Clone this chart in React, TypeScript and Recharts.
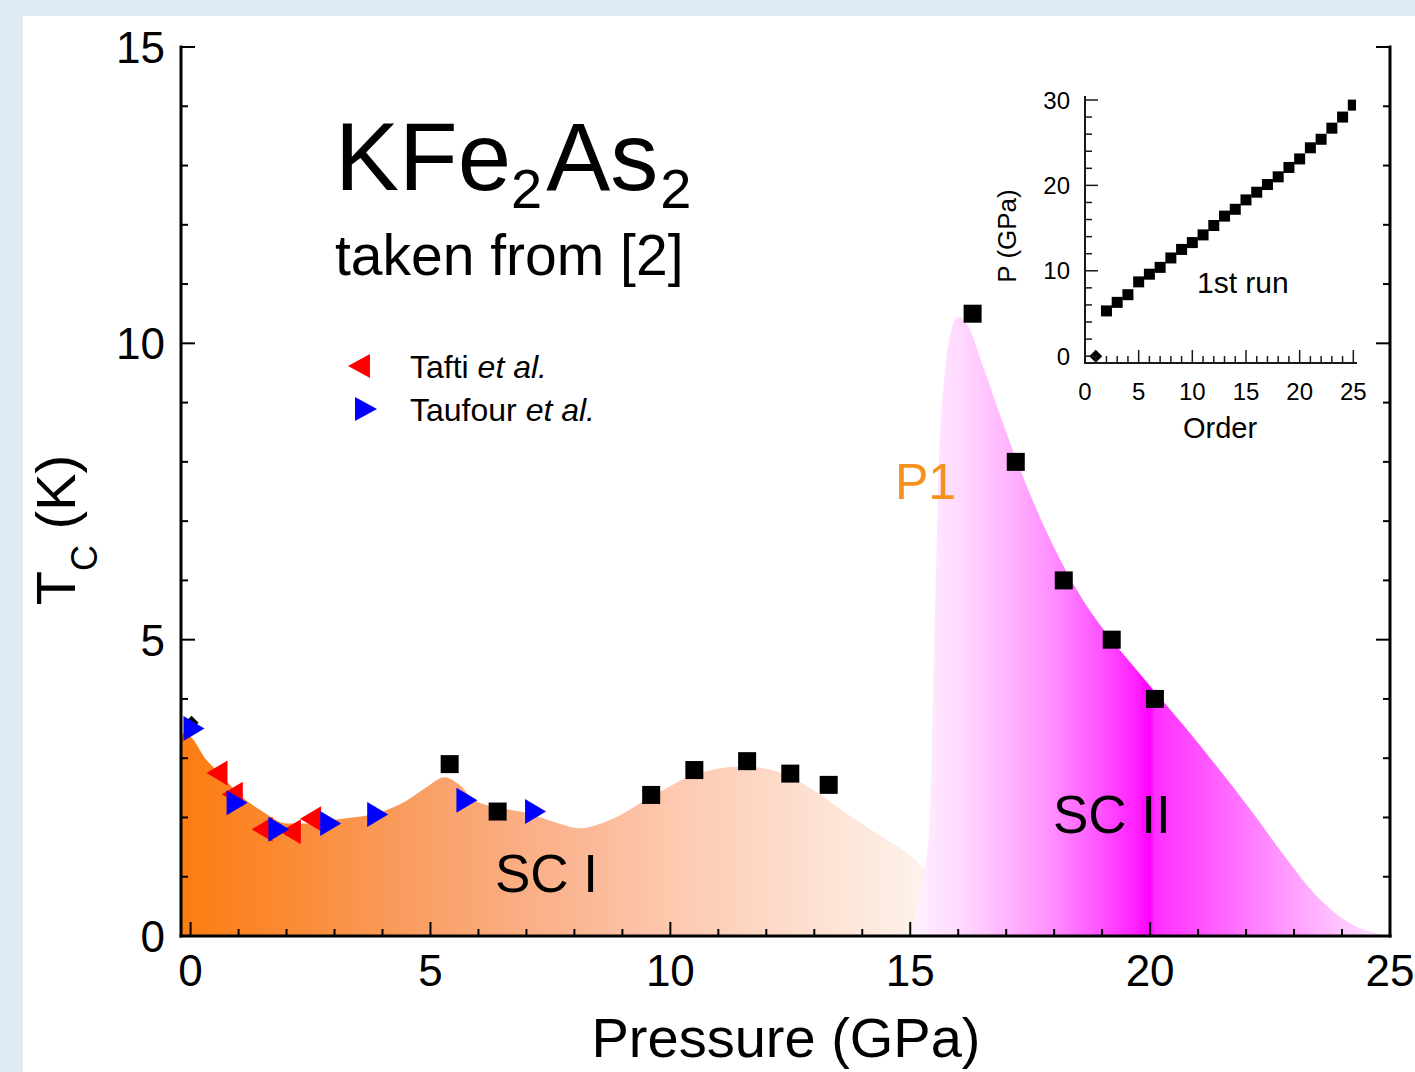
import React from 'react'
import { ComposedChart, ScatterChart, Area, Scatter, XAxis, YAxis, Legend } from 'recharts'

const FONT = "'Liberation Sans', Arial, Helvetica, sans-serif"

// main axes
const pressureTicks = [0, 1, 2, 3, 4, 5, 6, 7, 8, 9, 10, 11, 12, 13, 14, 15, 16, 17, 18, 19, 20, 21, 22, 23, 24, 25]
const tcTicks = [0, 1, 2, 3, 4, 5, 6, 7, 8, 9, 10, 11, 12, 13, 14, 15]

// SC I dome (upper edge of the orange shading)
const sc1Pressure = [-0.2, 0, 0.3, 0.6, 1.0, 1.5, 2.0, 2.5, 3.0, 4.0, 4.5, 4.9, 5.3, 5.6, 5.9, 6.4, 7.0, 7.6, 8.1, 8.8, 9.6, 10.5, 11.5, 12.3, 13.0, 13.7, 14.4, 15.0, 15.4]
const sc1Tc = [3.42, 3.36, 3.0, 2.75, 2.4, 2.1, 1.9, 1.9, 1.96, 2.1, 2.28, 2.5, 2.68, 2.55, 2.3, 2.17, 2.08, 1.92, 1.82, 1.98, 2.35, 2.72, 2.86, 2.76, 2.45, 2.05, 1.68, 1.36, 1.05]

// SC II dome (magenta shading)
const sc2Pressure = [15.0, 15.2, 15.4, 15.5, 15.6, 15.72, 15.85, 16.0, 16.2, 16.5, 17.0, 17.5, 18.0, 18.5, 19.0, 19.5, 20.0, 20.7, 21.4, 22.1, 22.8, 23.5, 24.2, 24.65, 25.0]
const sc2Tc = [0, 0.75, 1.8, 5.0, 8.0, 9.5, 10.2, 10.45, 10.3, 9.65, 8.5, 7.45, 6.55, 5.8, 5.2, 4.7, 4.22, 3.55, 2.85, 2.12, 1.35, 0.65, 0.2, 0.06, 0]

// measured points
const squareP = [5.4, 6.4, 9.6, 10.5, 11.6, 12.5, 13.3, 16.3, 17.2, 18.2, 19.2, 20.1]
const squareTc = [2.9, 2.1, 2.38, 2.8, 2.95, 2.74, 2.55, 10.5, 8.0, 6.0, 5.0, 4.0]
const diamondP = [0.02]
const diamondTc = [3.6]
const taftiP = [0.55, 0.87, 1.49, 2.08, 2.5]
const taftiTc = [2.75, 2.39, 1.8, 1.76, 1.98]
const taufourP = [0.07, 0.97, 1.84, 2.92, 3.9, 5.76, 7.19]
const taufourTc = [3.5, 2.25, 1.8, 1.9, 2.05, 2.29, 2.1]

// gradient stops, by pressure
const orangeStopP = [-0.2, 2, 5, 8, 10, 12.5, 14.5, 15.4]
const orangeStopColor = ['#fc7d10', '#fb8a33', '#f9a068', '#fbb693', '#fdc8ae', '#fddccc', '#fdece2', '#fdf3ec']
const pinkStopP = [15, 16, 17, 18, 19, 19.7, 20, 20.1, 21, 22, 23, 24, 25]
const pinkStopColor = ['#fff3ff', '#ffdaff', '#ffb6ff', '#ff8cff', '#ff50ff', '#ff20ff', '#ff00ff', '#ff30ff', '#ff50ff', '#ff78ff', '#ffa0ff', '#ffc6ff', '#ffe8ff']

// inset: pressure vs order (1st run)
const insetOrderTicks = [0, 1, 2, 3, 4, 5, 6, 7, 8, 9, 10, 11, 12, 13, 14, 15, 16, 17, 18, 19, 20, 21, 22, 23, 24, 25]
const insetPressureTicks = [0, 2, 4, 6, 8, 10, 12, 14, 16, 18, 20, 22, 24, 26, 28, 30]
const runOrder = [2, 3, 4, 5, 6, 7, 8, 9, 10, 11, 12, 13, 14, 15, 16, 17, 18, 19, 20, 21, 22, 23, 24, 25]
const runPressure = [5.3, 6.3, 7.2, 8.7, 9.6, 10.4, 11.5, 12.5, 13.3, 14.2, 15.3, 16.4, 17.2, 18.3, 19.2, 20.1, 21.0, 22.1, 23.1, 24.4, 25.4, 26.7, 28.0, 29.4]
const startOrder = [1]
const startPressure = [0]

const zip = (xs: number[], ys: number[]) => xs.map((p, i) => ({ p, t: ys[i] }))

const allP = Array.from(new Set([...sc1Pressure, ...sc2Pressure])).sort((a, b) => a - b)
const areaRows = allP.map(p => {
  const i = sc1Pressure.indexOf(p)
  const j = sc2Pressure.indexOf(p)
  return { p, sc1: i >= 0 ? sc1Tc[i] : null, sc2: j >= 0 ? sc2Tc[j] : null }
})

const stops = (ps: number[], colors: string[], lo: number, hi: number) =>
  ps.map((p, i) => <stop key={i} offset={(p - lo) / (hi - lo)} stopColor={colors[i]} />)

type Side = 'bottom' | 'top' | 'left' | 'right'
interface TickOpts { major: number; long: number; short: number; width: number; color: string; labels?: boolean; fontSize?: number; gap?: number }

const frameTick = (side: Side, o: TickOpts) => (props: any) => {
  const { x, y, payload } = props
  const v = Number(payload.value)
  const isMajor = Math.abs(v / o.major - Math.round(v / o.major)) < 1e-6
  const len = isMajor ? o.long : o.short
  let x2 = x
  let y2 = y
  if (side === 'bottom') y2 = y - len
  if (side === 'top') y2 = y + len
  if (side === 'left') x2 = x + len
  if (side === 'right') x2 = x - len
  let label = null
  if (o.labels && isMajor) {
    const fs = o.fontSize ?? 20
    if (side === 'bottom') {
      label = <text x={x} y={y + (o.gap ?? 0)} textAnchor="middle" fontSize={fs} fontFamily={FONT} fill="#000">{v}</text>
    } else if (side === 'left') {
      label = <text x={x - (o.gap ?? 0)} y={y + fs * 0.36} textAnchor="end" fontSize={fs} fontFamily={FONT} fill="#000">{v}</text>
    }
  }
  return (
    <g>
      <line x1={x} y1={y} x2={x2} y2={y2} stroke={o.color} strokeWidth={o.width} />
      {label}
    </g>
  )
}

const squareShape = (size: number) => (props: any) => (
  <rect x={props.cx - size / 2} y={props.cy - size / 2} width={size} height={size} fill="#000" />
)
const diamondShape = (size: number) => (props: any) => {
  const { cx, cy } = props
  const h = size / 2
  return <polygon points={`${cx},${cy - h} ${cx + h},${cy} ${cx},${cy + h} ${cx - h},${cy}`} fill="#000" />
}
const triShape = (dir: 'left' | 'right', color: string) => (props: any) => {
  const { cx, cy } = props
  const pts = dir === 'left'
    ? `${cx - 10.5},${cy} ${cx + 10.5},${cy - 12.5} ${cx + 10.5},${cy + 12.5}`
    : `${cx + 10.5},${cy} ${cx - 10.5},${cy - 12.5} ${cx - 10.5},${cy + 12.5}`
  return <polygon points={pts} fill={color} />
}

const TAFTI_COLOR = '#ff0000'
const TAUFOUR_COLOR = '#0000ff'

function LegendBox({ payload }: { payload?: Array<{ value: string; color?: string }> }) {
  const names = (payload ?? []).map(p => p.value).filter(v => v === 'Tafti' || v === 'Taufour')
  return (
    <svg width={300} height={90} style={{ overflow: 'visible' }}>
      {names.map((name, i) => {
        const cy = 21 + 43 * i
        const left = name === 'Tafti'
        const cx = left ? 19 : 26
        const pts = left
          ? `${cx - 11},${cy} ${cx + 11},${cy - 12} ${cx + 11},${cy + 12}`
          : `${cx + 11},${cy} ${cx - 11},${cy - 12} ${cx - 11},${cy + 12}`
        return (
          <g key={name}>
            <polygon points={pts} fill={left ? TAFTI_COLOR : TAUFOUR_COLOR} />
            <text x={70} y={cy + 11.5} fontSize={32} fontFamily={FONT} fill="#000">
              {name} <tspan fontStyle="italic">et al.</tspan>
            </text>
          </g>
        )
      })}
    </svg>
  )
}

const mainTick = { major: 5, long: 14, short: 7, width: 2, color: '#000' }
const insetTick = { major: 5, long: 13, short: 7, width: 1.5, color: '#1a1a1a' }
const insetYTick = { ...insetTick, major: 10 }

export default function App() {
  const axisLine = { stroke: '#000', strokeWidth: 3, strokeLinecap: 'square' as const }
  const insetLine = { stroke: '#1a1a1a', strokeWidth: 2, strokeLinecap: 'square' as const }
  return (
    <div style={{ position: 'absolute', left: 0, top: 0, width: 1415, height: 1072, background: '#dfebf2', overflow: 'hidden' }}>
      <div style={{ position: 'absolute', left: 23, top: 16, right: 0, bottom: 0, background: '#fff' }} />

      <div style={{ position: 'absolute', left: 0, top: 0 }}>
        <ComposedChart width={1415} height={1072} data={areaRows} margin={{ top: 47, right: 0, bottom: 0, left: 0 }}>
          <defs>
            <linearGradient id="orangeGrad" x1="0" y1="0" x2="1" y2="0">
              {stops(orangeStopP, orangeStopColor, sc1Pressure[0], sc1Pressure[sc1Pressure.length - 1])}
            </linearGradient>
            <linearGradient id="pinkGrad" x1="0" y1="0" x2="1" y2="0">
              {stops(pinkStopP, pinkStopColor, sc2Pressure[0], sc2Pressure[sc2Pressure.length - 1])}
            </linearGradient>
          </defs>
          <XAxis xAxisId="b" dataKey="p" type="number" domain={[-0.2, 25]} allowDataOverflow ticks={pressureTicks} interval={0}
            orientation="bottom" height={136} tickSize={0} tickMargin={0} tickLine={false} axisLine={axisLine}
            tick={frameTick('bottom', { ...mainTick, labels: true, fontSize: 44, gap: 50 })} />
          <XAxis xAxisId="t" dataKey="p" type="number" domain={[-0.2, 25]} allowDataOverflow ticks={pressureTicks} interval={0}
            orientation="top" height={0} tickSize={0} tickMargin={0} tickLine={false} axisLine={axisLine}
            tick={frameTick('top', mainTick)} />
          <YAxis yAxisId="l" type="number" domain={[0, 15]} allowDataOverflow ticks={tcTicks} interval={0}
            orientation="left" width={181} tickSize={0} tickMargin={0} tickLine={false} axisLine={axisLine}
            tick={frameTick('left', { ...mainTick, labels: true, fontSize: 44, gap: 16 })} />
          <YAxis yAxisId="r" type="number" domain={[0, 15]} allowDataOverflow ticks={tcTicks} interval={0}
            orientation="right" width={25} tickSize={0} tickMargin={0} tickLine={false} axisLine={axisLine}
            tick={frameTick('right', mainTick)} />

          <Area xAxisId="b" yAxisId="l" type="monotone" dataKey="sc1" fill="url(#orangeGrad)" fillOpacity={1} stroke="none"
            connectNulls dot={false} activeDot={false} legendType="none" isAnimationActive={false} />
          <Area xAxisId="b" yAxisId="l" type="monotone" dataKey="sc2" fill="url(#pinkGrad)" fillOpacity={1} stroke="none"
            connectNulls dot={false} activeDot={false} legendType="none" isAnimationActive={false} />

          <Scatter xAxisId="b" yAxisId="l" name="start" data={zip(diamondP, diamondTc)} dataKey="t"
            shape={diamondShape(14)} legendType="none" isAnimationActive={false} />
          <Scatter xAxisId="b" yAxisId="l" name="Tafti" data={zip(taftiP, taftiTc)} dataKey="t" fill={TAFTI_COLOR}
            shape={triShape('left', TAFTI_COLOR)} isAnimationActive={false} />
          <Scatter xAxisId="b" yAxisId="l" name="Taufour" data={zip(taufourP, taufourTc)} dataKey="t" fill={TAUFOUR_COLOR}
            shape={triShape('right', TAUFOUR_COLOR)} isAnimationActive={false} />
          <Scatter xAxisId="b" yAxisId="l" name="this work" data={zip(squareP, squareTc)} dataKey="t"
            shape={squareShape(18)} legendType="none" isAnimationActive={false} />

          <Legend layout="vertical" align="center" verticalAlign="middle" content={<LegendBox />}
            wrapperStyle={{ left: 340, top: 345, width: 300, height: 90 }} />
        </ComposedChart>
      </div>

      {/* inset: pressure sequence */}
      <div style={{ position: 'absolute', left: 990, top: 60 }}>
        <ScatterChart width={390} height={400} margin={{ top: 37, right: 24, bottom: 0, left: 0 }}>
          <XAxis xAxisId="b" dataKey="p" type="number" domain={[0, 25.25]} allowDataOverflow ticks={insetOrderTicks} interval={0}
            orientation="bottom" height={97} tickSize={0} tickMargin={0} tickLine={false} axisLine={insetLine}
            tick={frameTick('bottom', { ...insetTick, labels: true, fontSize: 24, gap: 37 })} />
          <XAxis xAxisId="t" dataKey="p" type="number" domain={[0, 25.25]} allowDataOverflow ticks={insetOrderTicks} interval={0}
            orientation="top" height={0} tickSize={0} tickMargin={0} tickLine={false} axisLine={insetLine}
            tick={frameTick('top', insetTick)} />
          <YAxis yAxisId="l" dataKey="t" type="number" domain={[-0.8, 30.35]} allowDataOverflow ticks={insetPressureTicks} interval={0}
            orientation="left" width={95} tickSize={0} tickMargin={0} tickLine={false} axisLine={insetLine}
            tick={frameTick('left', { ...insetYTick, labels: true, fontSize: 24, gap: 15 })} />
          <YAxis yAxisId="r" dataKey="t" type="number" domain={[-0.8, 30.35]} allowDataOverflow ticks={insetPressureTicks} interval={0}
            orientation="right" width={0} tickSize={0} tickMargin={0} tickLine={false} axisLine={insetLine}
            tick={frameTick('right', insetYTick)} />
          <Scatter xAxisId="b" yAxisId="l" data={zip(startOrder, startPressure)} dataKey="t"
            shape={diamondShape(13)} isAnimationActive={false} />
          <Scatter xAxisId="b" yAxisId="l" data={zip(runOrder, runPressure)} dataKey="t"
            shape={squareShape(11)} isAnimationActive={false} />
        </ScatterChart>
      </div>

      {/* annotations */}
      <svg width={1415} height={1072} style={{ position: 'absolute', left: 0, top: 0, pointerEvents: 'none' }} fontFamily={FONT}>
        <text x={335} y={190} fontSize={96} fill="#000">
          KFe<tspan fontSize={56} dy={18}>2</tspan><tspan fontSize={96} dy={-18} dx={4}>As</tspan><tspan fontSize={56} dy={18} dx={2}>2</tspan>
        </text>
        <text x={335} y={275} fontSize={57} fill="#000">taken from [2]</text>
        <text x={895} y={499} fontSize={50} fill="#f7901e">P1</text>
        <text x={495} y={892} fontSize={53} fill="#000">SC I</text>
        <text x={1053} y={833} fontSize={53} fill="#000">SC II</text>
        <text x={786} y={1057} fontSize={56} textAnchor="middle" fill="#000">Pressure (GPa)</text>
        <text transform="translate(75, 530) rotate(-90)" textAnchor="middle" fontSize={56} fill="#000">
          T<tspan fontSize={36} dy={22}>C</tspan><tspan dy={-22}> (K)</tspan>
        </text>
        <text x={1197} y={293} fontSize={30} fill="#000">1st run</text>
        <text x={1220} y={438} fontSize={29} textAnchor="middle" fill="#000">Order</text>
        <text transform="translate(1016, 236) rotate(-90)" textAnchor="middle" fontSize={26} fill="#000">P (GPa)</text>
      </svg>
    </div>
  )
}
